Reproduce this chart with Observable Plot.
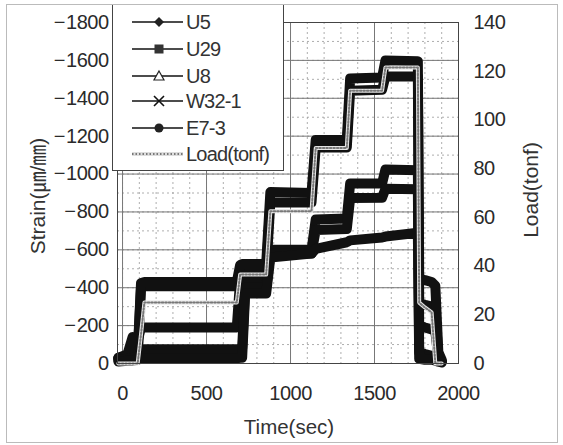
<!DOCTYPE html>
<html><head><meta charset="utf-8">
<script src="https://cdn.jsdelivr.net/npm/d3@7"></script>
<script src="https://cdn.jsdelivr.net/npm/@observablehq/plot@0.6"></script>
<style>
html,body{margin:0;padding:0;background:#fff;}
#chart{width:563px;height:445px;position:relative;}
</style></head><body><div id="chart"></div>
<script>
// ---- data ----
const times = [-25, 30, 60, 90, 110, 130, 680, 700, 712, 730, 855, 880, 1125, 1150, 1335, 1355, 1545, 1565, 1758, 1766, 1800, 1840, 1862, 1880, 1900];
const strainU5   = [-25, -30, -30, -40, -400, -408, -408, -480, -485, -485, -485, -850, -850, -1140, -1140, -1440, -1445, -1515, -1515, -320, -310, -300, -280, -40, -10];
const strainU29  = [-30, -35, -40, -50, -425, -430, -430, -520, -525, -525, -525, -905, -900, -1180, -1180, -1505, -1510, -1600, -1595, -450, -440, -430, -410, -60, -20];
const strainU8   = [-30, -50, -140, -120, -190, -190, -190, -440, -445, -445, -445, -600, -600, -760, -765, -950, -950, -1024, -1020, -200, -190, -180, -170, -30, -10];
const strainW321 = [-20, -25, -30, -30, -70, -75, -75, -78, -80, -400, -400, -580, -580, -705, -710, -873, -875, -923, -920, -60, -50, -40, -40, -20, -10];
const strainE73  = [-10, -15, -15, -20, -25, -28, -28, -30, -30, -370, -370, -560, -580, -605, -640, -650, -665, -670, -690, -25, -20, -20, -15, -10, -5];
const loadTonf   = [0, 0, 0, 0, 12, 25, 25, 36.5, 36.5, 36.5, 36.5, 62.5, 62.5, 88.5, 88.5, 112, 112, 121.5, 121.5, 25, 23, 21, 0, 0, 0];
const seriesNames = ["U5", "U29", "U8", "W32-1", "E7-3"];
const timeTicks = [0, 500, 1000, 1500, 2000];
const strainTicks = [0, -200, -400, -600, -800, -1000, -1200, -1400, -1600, -1800];
const loadTicks = [0, 20, 40, 60, 80, 100, 120, 140];

// ---- build tables ----
const seriesValues = [strainU5, strainU29, strainU8, strainW321, strainE73];
const K = 1800 / 140; // load -> strain-axis equivalent
const rows = [];
seriesNames.forEach((name, s) => seriesValues[s].forEach((v, i) => rows.push({name, t: times[i], v})));
const loadRows = times.map((t, i) => ({t, v: -loadTonf[i] * K}));
const timeMinor = d3.range(0, 2000, 100);
const strainMinor = d3.range(-100, -1800, -100);

const font = "'Liberation Sans', Arial, 'Noto Sans CJK KR', sans-serif";
const plot = Plot.plot({
  width: 563, height: 445,
  marginLeft: 117, marginRight: 105, marginTop: 22, marginBottom: 82,
  style: {fontFamily: font, fontSize: "20px", background: "#fff", color: "#2a2a2a", fontWeight: "normal"},
  x: {domain: [-30, 2000]},
  y: {domain: [0, -1800]},
  marks: [
    Plot.ruleX(timeMinor, {stroke: "#999", strokeDasharray: "2,3", strokeWidth: 0.8}),
    Plot.ruleY(strainMinor, {stroke: "#999", strokeDasharray: "2,3", strokeWidth: 0.8}),
    Plot.ruleX(timeTicks, {stroke: "#777", strokeWidth: 1}),
    Plot.ruleY(strainTicks, {stroke: "#777", strokeWidth: 1}),
    Plot.line(rows, {x: "t", y: "v", z: "name", stroke: "#111", strokeWidth: 10, strokeLinejoin: "round"}),
    Plot.line(loadRows, {x: "t", y: "v", stroke: "#e4e4e4", strokeWidth: 4}),
    Plot.line(loadRows, {x: "t", y: "v", stroke: "#777", strokeWidth: 2, strokeDasharray: "1.5,2"}),
    Plot.frame({stroke: "#444"}),
    Plot.axisX({ticks: timeTicks, tickSize: 0, tickPadding: 22, label: null, tickFormat: d => String(d)}),
    Plot.axisY({ticks: strainTicks, anchor: "left", tickSize: 0, tickPadding: 9, label: null,
      tickFormat: d => d === 0 ? "0" : "\u2212\u200A" + Math.abs(d)}),
    Plot.axisY({ticks: loadTicks.map(v => -v * K), anchor: "right", tickSize: 0, tickPadding: 15, label: null,
      tickFormat: d => String(Math.round(Math.abs(d) / K))})
  ]
});
document.getElementById("chart").appendChild(plot);

const svg = d3.select(plot);
svg.selectAll("text").style("letter-spacing", "-0.5px");

function addText(sel, txt, size) {
  return sel.append("text").style("font-size", size).style("font-family", font)
    .style("font-weight", "400").attr("fill", "#333").attr("stroke", "none").text(txt);
}
// axis titles
addText(svg, "Strain(\u339B/\u339C)", "21px").attr("transform", "translate(37,196) rotate(-90)")
  .attr("text-anchor", "middle").attr("dominant-baseline", "central");
addText(svg, "Load(tonf)", "21px").attr("transform", "translate(530,190) rotate(-90)")
  .attr("text-anchor", "middle").attr("dominant-baseline", "central");
addText(svg, "Time(sec)", "20.5px").attr("x", 289).attr("y", 434)
  .attr("text-anchor", "middle").style("letter-spacing", "0px");

// legend
const lg = svg.append("g");
lg.append("rect").attr("x", 112.5).attr("y", 4.5).attr("width", 171).attr("height", 166)
  .attr("fill", "#fff").attr("stroke", "#444");
const legendLabels = seriesNames.concat(["Load(tonf)"]);
const ly = [22, 49, 76, 101, 128, 154];
legendLabels.forEach((lab, i) => {
  const y = ly[i];
  if (i < 5) {
    lg.append("line").attr("x1", 132).attr("x2", 183).attr("y1", y).attr("y2", y).attr("stroke", "#111").attr("stroke-width", 1.3);
    const cx = 159;
    if (i === 0) lg.append("path").attr("d", `M${cx},${y-5}L${cx+5},${y}L${cx},${y+5}L${cx-5},${y}Z`).attr("fill", "#222");
    if (i === 1) lg.append("rect").attr("x", cx-4.5).attr("y", y-4.5).attr("width", 9).attr("height", 9).attr("fill", "#333");
    if (i === 2) lg.append("path").attr("d", `M${cx},${y-5}L${cx+5},${y+4}L${cx-5},${y+4}Z`).attr("fill", "#fff").attr("stroke", "#222").attr("stroke-width", 1.2);
    if (i === 3) lg.append("path").attr("d", `M${cx-5},${y-5}L${cx+5},${y+5}M${cx+5},${y-5}L${cx-5},${y+5}`).attr("stroke", "#111").attr("stroke-width", 1.6);
    if (i === 4) lg.append("circle").attr("cx", cx).attr("cy", y).attr("r", 4.5).attr("fill", "#222");
  } else {
    lg.append("line").attr("x1", 132).attr("x2", 183).attr("y1", y).attr("y2", y).attr("stroke", "#ddd").attr("stroke-width", 4);
    lg.append("line").attr("x1", 132).attr("x2", 183).attr("y1", y).attr("y2", y).attr("stroke", "#777").attr("stroke-width", 2).attr("stroke-dasharray", "1.5,2");
  }
  addText(lg, lab, "20px").attr("x", 186).attr("y", y).attr("text-anchor", "start")
    .attr("dominant-baseline", "central").style("letter-spacing", "-0.8px");
});

// outer border
svg.append("rect").attr("x", 6.5).attr("y", 4.5).attr("width", 551).attr("height", 438)
  .attr("fill", "none").attr("stroke", "#bbb");
</script></body></html>
